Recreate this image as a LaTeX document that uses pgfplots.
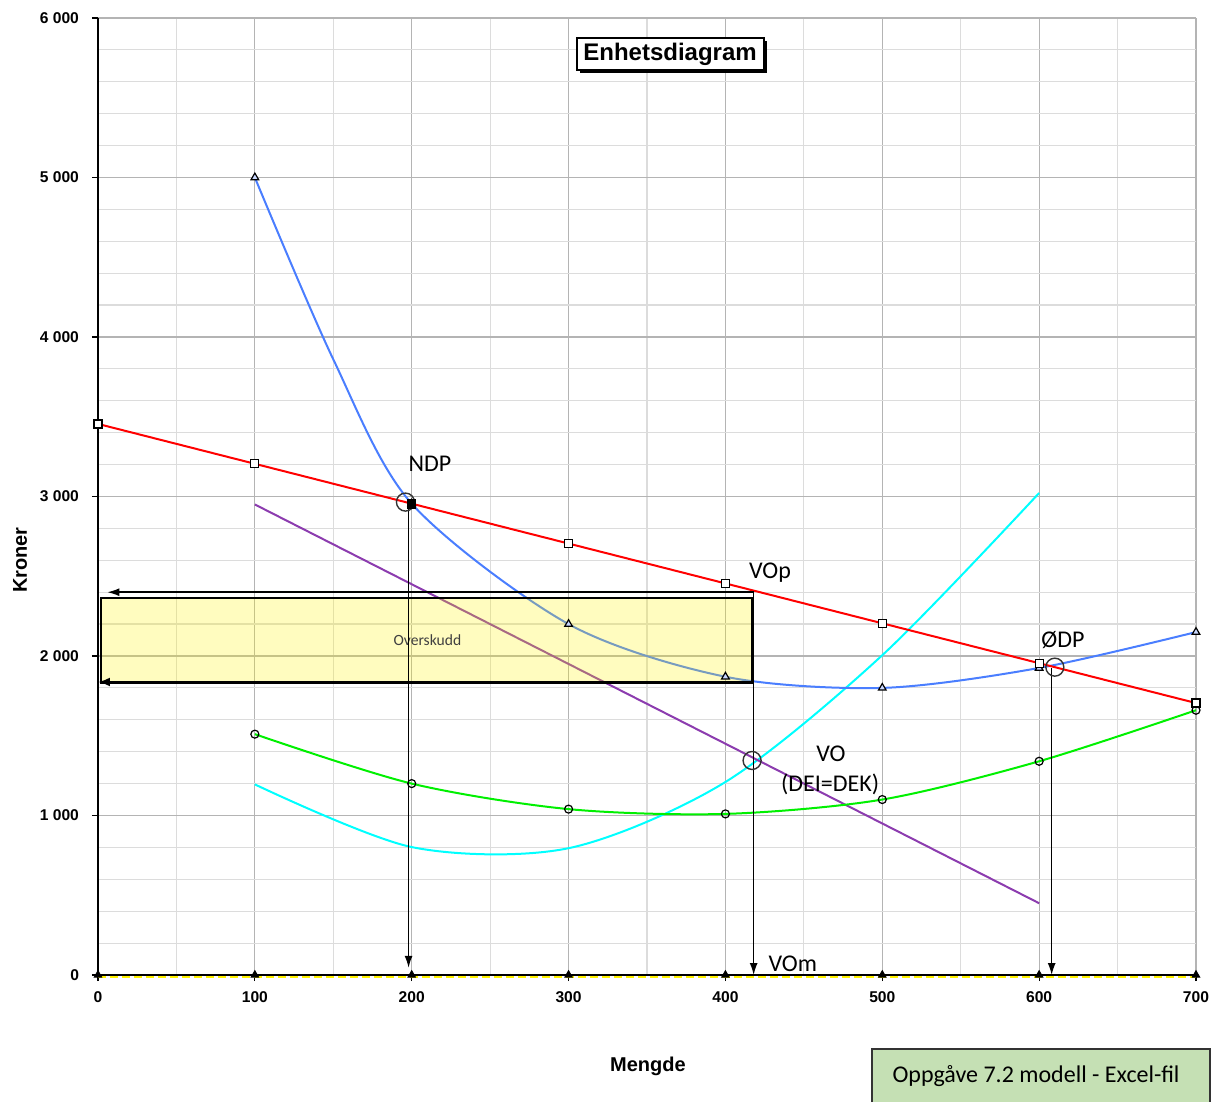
\documentclass[border=0pt]{standalone}
\usepackage{fontspec}
\setmainfont{Carlito}
\newfontfamily\arial{Liberation Sans}
\usepackage{pgfplots}
\pgfplotsset{compat=1.18}
\usetikzlibrary{arrows.meta,shadows}
\definecolor{cred}{RGB}{255,0,0}
\definecolor{cblue}{RGB}{74,126,255}
\definecolor{ccyan}{RGB}{0,255,255}
\definecolor{cgreen}{RGB}{0,240,0}
\definecolor{cpurple}{RGB}{140,60,175}
\definecolor{boxgreen}{RGB}{197,224,180}
\definecolor{majgrid}{RGB}{180,180,180}
\definecolor{mingrid}{RGB}{220,220,220}
\begin{document}
\begin{tikzpicture}
\begin{axis}[
  scale only axis, width=549pt, height=478.5pt,
  xmin=0, xmax=700, ymin=0, ymax=6000,
  axis x line=bottom, axis y line=left,
  axis line style={-, line width=0.8pt, black},
  xtick={0,100,...,700}, ytick={0,1000,...,6000},
  minor xtick={50,150,250,350,450,550,650},
  minor ytick={200,400,600,800,1200,1400,1600,1800,2200,2400,2600,2800,3200,3400,3600,3800,4200,4400,4600,4800,5200,5400,5600,5800},
  grid=both,
  major grid style={color=majgrid, line width=0.6pt},
  minor grid style={color=mingrid, line width=0.6pt},
  tick align=outside, major tick length=3pt, minor tick length=0pt,
  tick style={black, line width=0.6pt},
  ticklabel style={font=\arial\bfseries\fontsize{7.8}{9}\selectfont},
  xticklabel style={yshift=-2pt},
  yticklabel style={xshift=-3pt},
  /pgf/number format/.cd, 1000 sep={\ }, assume math mode=true,
  /pgfplots/.cd,
  clip=false,
]
% bounding box
\path (rel axis cs:-0.08925,-0.13271) rectangle (rel axis cs:1.02186,1.01881);

% cyan (GK)
\addplot[ccyan, line width=1pt, smooth, no marks] coordinates {(100,1195)(200,802)(300,795)(400,1210)(500,2005)(600,3022)};
% purple (GI)
\addplot[cpurple, line width=1pt, no marks] coordinates {(100,2950)(600,450)};
% green (DEV)
\addplot[cgreen, line width=1pt, smooth, mark=o, mark size=2pt, mark options={black, line width=0.6pt, fill=white, solid}] coordinates {(100,1510)(200,1200)(300,1040)(400,1010)(500,1100)(600,1340)(700,1660)};
% blue (DEK) - curve
\addplot[cblue, line width=1pt, smooth, no marks] coordinates {(100,5000)(150,3860)(200,2955)(300,2200)(400,1870)(500,1800)(600,1925)(700,2150)};
% blue (DEK) - markers
\addplot[only marks, mark=triangle*, mark size=2.2pt, mark options={black, line width=0.6pt, fill=cblue!30}] coordinates {(100,5000)(200,2955)(300,2200)(400,1870)(500,1800)(600,1925)(700,2150)};
% red (pris)
\addplot[cred, line width=1pt, mark=square*, mark size=2pt, mark options={black, line width=0.6pt, fill=white, solid}] coordinates {(0,3455)(100,3205)(200,2955)(300,2705)(400,2455)(500,2205)(600,1955)(700,1705)};
\addplot[only marks, mark=square*, mark size=2pt, black] coordinates {(200,2950)};

% yellow box
\draw[black, line width=0.8pt, fill=yellow, fill opacity=0.25] (axis cs:2,1831) rectangle (axis cs:417,2364);
\node[font=\fontsize{7.8}{9}\selectfont, text=black!75] at (axis cs:210,2100) {Overskudd};

% bottom line
\addplot[black, line width=1.1pt, no marks] coordinates {(0,0)(700,0)};
\addplot[yellow, line width=1.1pt, no marks, dash pattern=on 4pt off 2pt, yshift=-1.1pt] coordinates {(0,0)(700,0)};
\addplot[only marks, mark=triangle*, mark size=2.2pt, black] coordinates {(0,0)(100,0)(200,0)(300,0)(400,0)(500,0)(600,0)(700,0)};

% arrows
\draw[-{Latex[length=6pt,width=4pt]}, line width=0.7pt] (axis cs:418,2400) -- (axis cs:6,2400);
\draw[-{Latex[length=6pt,width=4.5pt]}, line width=1.3pt] (axis cs:418,1837) -- (axis cs:0,1837);
\draw[-{Latex[length=6pt,width=4pt]}, line width=0.7pt] (axis cs:198,2950) -- (axis cs:198,45);
\draw[-{Latex[length=6pt,width=4pt]}, line width=0.7pt] (axis cs:418,2400) -- (axis cs:418,0);
\draw[-{Latex[length=6pt,width=4pt]}, line width=0.7pt] (axis cs:608,1925) -- (axis cs:608,0);

% circles
\draw[black!80, line width=0.7pt] (axis cs:196,2965) circle (4.5pt);
\draw[black!80, line width=0.7pt] (axis cs:417,1345) circle (4.5pt);
\draw[black!80, line width=0.7pt] (axis cs:610,1930) circle (4.5pt);

% labels
\node[font=\fontsize{12}{14}\selectfont] at (axis cs:211.6,3204) {NDP};
\node[font=\fontsize{12}{14}\selectfont] at (axis cs:428.4,2520) {VOp};
\node[font=\fontsize{12}{14}\selectfont] at (axis cs:615.2,2100) {ØDP};
\node[font=\fontsize{12}{14}\selectfont] at (axis cs:467.3,1386) {VO};
\node[font=\fontsize{12}{14}\selectfont] at (axis cs:466.7,1197) {(DEI=DEK)};
\node[font=\fontsize{12}{14}\selectfont] at (axis cs:443,69) {VOm};

% title
\node[draw=black, line width=1pt, fill=white, minimum width=93.5pt, minimum height=16pt, inner sep=1pt,
      drop shadow={shadow xshift=1.5pt, shadow yshift=-1.5pt, fill=black, opacity=1},
      font=\arial\bfseries\fontsize{12}{14}\selectfont] at (axis cs:364.7,5774) {Enhetsdiagram};

% axis labels
\node[rotate=90, font=\arial\bfseries\fontsize{10}{12}\selectfont] at (rel axis cs:-0.071,0.4336) {Kroner};
\node[font=\arial\bfseries\fontsize{10}{12}\selectfont] at (rel axis cs:0.5009,-0.0951) {Mengde};

% green note box
\fill[boxgreen] (rel axis cs:0.7049,-0.13271) rectangle (rel axis cs:1.01275,-0.07733);
\draw[black!80, line width=0.6pt] (rel axis cs:0.7049,-0.13271) -- (rel axis cs:0.7049,-0.07733) -- (rel axis cs:1.01275,-0.07733) -- (rel axis cs:1.01275,-0.13271);
\node[font=\fontsize{12}{14}\selectfont] at (rel axis cs:0.8543,-0.10554) {Oppgåve 7.2 modell - Excel-fil};
\end{axis}
\end{tikzpicture}
\end{document}
